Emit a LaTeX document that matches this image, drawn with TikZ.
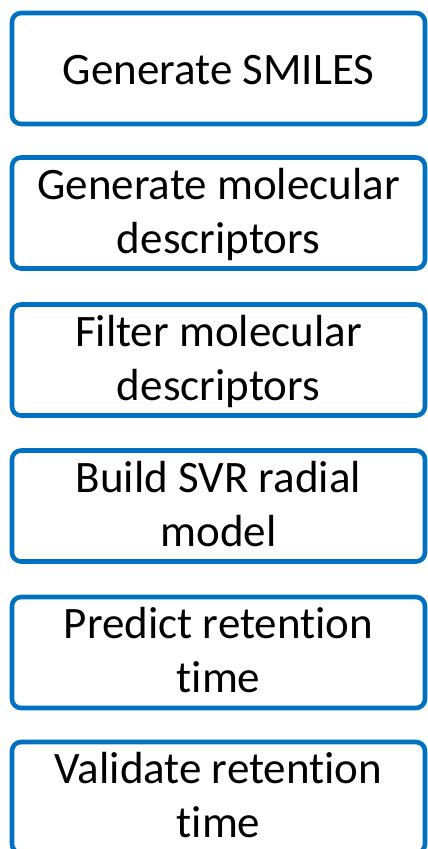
\documentclass[tikz,border=0pt]{standalone}
\usepackage{fontspec}
\setmainfont{Carlito}[Ligatures={CommonOff,ContextualOff}]
\definecolor{boxblue}{RGB}{0,112,192}
\newcommand{\lnstrut}{\rule[-12pt]{0pt}{48pt}}
\newcommand{\nl}{\kern0pt }
\begin{document}
\begin{tikzpicture}[x=1pt,y=1pt,
  stepbox/.style={draw=boxblue, line width=4.6pt, rounded corners=9pt, minimum width=413pt, minimum height=111pt, inner sep=0pt, fill=white},
  steptext/.style={font=\fontsize{45}{54}\selectfont, align=center, inner sep=0pt, anchor=north, text=black}]
\useasboundingbox (0,0) rectangle (428,-849);
\clip (0,0) rectangle (428,-849);
\fill[white] (0,0) rectangle (428,-849);
\node[stepbox] (b1) at (218.5,-68.5) {};
\node[stepbox] (b2) at (218.5,-213) {};
\node[stepbox] (b3) at (218.5,-360) {};
\node[stepbox] (b4) at (218.5,-506) {};
\node[stepbox] (b5) at (218.5,-652.5) {};
\node[stepbox] (b6) at (218.5,-797.5) {};
\node[steptext] (t1) at ([yshift=-38pt]b1.north) {\lnstrut Generate SMILES};
\node[steptext] (t2) at ([yshift=-8pt]b2.north) {\lnstrut Generate molecular\\\lnstrut descriptors};
\node[steptext] (t3) at ([yshift=-8pt]b3.north) {\lnstrut Filter molecular\\\lnstrut descriptors};
\node[steptext] (t4) at ([yshift=-8pt]b4.north) {\lnstrut Build SVR radial\\\lnstrut model};
\node[steptext] (t5) at ([yshift=-8pt]b5.north) {\lnstrut Predict retent\nl ion\\\lnstrut t\nl ime};
\node[steptext] (t6) at ([yshift=-8pt]b6.north) {\lnstrut Validate retent\nl ion\\\lnstrut t\nl ime};
\end{tikzpicture}
\end{document}
